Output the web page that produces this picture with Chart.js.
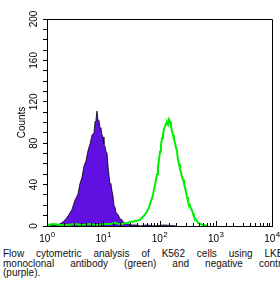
<!DOCTYPE html>
<html>
<head>
<meta charset="utf-8">
<script src="https://cdn.jsdelivr.net/npm/chart.js@4/dist/chart.umd.min.js"></script>
<style>
    body { margin: 0; width: 280px; height: 282px; overflow: hidden; background: #fff; position: relative; }
    #chart { position: absolute; left: 0; top: 0; }
    .caption { position: absolute; left: 3px; top: 249px; width: 286px; font-family: "Liberation Sans", Arial, sans-serif; font-size: 10px; line-height: 9.5px; color: #111; }
    .caption .jl { text-align: justify; text-align-last: justify; white-space: nowrap; }
</style>
</head>
<body>
<canvas id="chart" width="280" height="248"></canvas>
<div class="caption">
    <div class="jl">Flow cytometric analysis of K562 cells using LKB1</div>
    <div class="jl">monoclonal antibody (green) and negative control</div>
    <div>(purple).</div>
</div>
<script>
    // fluorescence intensity (log scale) and event counts
    var purpleX = [1.13, 1.23, 1.45, 1.70, 1.93, 2.18, 2.46, 2.78, 3.15, 3.56, 3.86, 4.19, 4.55, 4.94, 5.36, 5.81, 6.31, 6.85, 7.14, 7.43,
        7.74, 8.07, 8.40, 8.76, 9.12, 9.50, 9.90, 10.3, 10.7, 11.2, 11.7, 12.2, 12.7, 13.2, 13.7, 14.3, 14.9, 15.5, 16.2, 16.9,
        18.3, 19.9, 21.5, 23.4, 26.4, 31.1, 38.2, 45.0, 60, 80, 120, 200];
    var purpleCounts = [0, 1, 1, 2, 4, 7, 11, 16, 25, 31, 41, 47, 58, 63, 73, 79, 88, 90, 101, 103,
        111, 102, 101, 95, 94, 88, 86, 79, 77, 72, 70, 57, 48, 41, 40, 34, 29, 20, 18, 13,
        11, 7, 6, 3, 2, 1, 1, 0, 1, 0, 1, 0];

    var greenX = [1.0, 1.3, 1.7, 2.3, 3.15, 4.2, 5.8, 7.5, 10.7, 13.5, 16.2, 19.0, 21.5, 24.5, 27.5, 30.5, 33.8, 36.5, 39.8, 45.0,
        50.9, 55.2, 59.9, 65.1, 70.6, 76.6, 83.2, 90.3, 94.0, 98.0, 102.1, 106.3, 110.8, 115.4, 120.2, 125.3, 130.5, 135.9, 141.6, 147.5,
        153.7, 160.1, 166.8, 173.8, 181.0, 188.6, 196.5, 204.7, 213.3, 222.2, 231.4, 241.2, 251.2, 261.7, 272.6, 284.0, 295.9, 308.3, 321.1, 334.6,
        348.5, 363.1, 378.3, 394.1, 410.5, 427.7, 445.6, 464.2, 483.6, 524.8, 593.5, 700];
    var greenCounts = [1, 2, 1, 1, 2, 1, 2, 1, 2, 2, 3, 2, 2, 3, 3, 4, 4, 5, 5, 6,
        9, 11, 14, 18, 24, 30, 40, 50, 57, 64, 72, 78, 85, 88, 94, 96, 99, 100, 98, 103,
        101, 96, 92, 88, 84, 80, 76, 72, 64, 60, 55, 52, 47, 45, 41, 38, 33, 28, 24, 21,
        19, 17, 15, 12, 9, 7, 6, 5, 3, 2, 1, 0];

    var xMajor = [1, 10, 100, 1000, 10000];
    var xExponents = ['0', '1', '2', '3', '4'];
    var yLabelStep = 40;

    function toPoints(xs, ys) {
        var pts = [];
        for (var i = 0; i < xs.length; i++) {
            pts.push({x: xs[i], y: ys[i]});
        }
        return pts;
    }

    var fam = '"Liberation Sans", Arial, sans-serif';

    // box round the plot, inward ticks on the log axis and 10^n labels
    var frameTicks = {
        id: 'frameTicks',
        afterDatasetsDraw: function (chart) {
            var ctx = chart.ctx;
            var area = chart.chartArea;
            var xs = chart.scales.x;
            ctx.save();
            ctx.strokeStyle = '#000';
            ctx.lineWidth = 1;
            ctx.beginPath();
            ctx.moveTo(area.left, area.top + 0.5);
            ctx.lineTo(area.right + 0.5, area.top + 0.5);
            ctx.lineTo(area.right + 0.5, area.bottom);
            ctx.stroke();
            xs.ticks.forEach(function (t) {
                var px = Math.round(xs.getPixelForValue(t.value)) + 0.5;
                var len = xMajor.indexOf(t.value) >= 0 ? 5 : 3;
                ctx.beginPath();
                ctx.moveTo(px, area.bottom);
                ctx.lineTo(px, area.bottom - len);
                ctx.stroke();
            });
            ctx.fillStyle = '#000';
            ctx.textBaseline = 'alphabetic';
            ctx.textAlign = 'left';
            xMajor.forEach(function (v, i) {
                var px = xs.getPixelForValue(v);
                ctx.font = '10px ' + fam;
                var w1 = ctx.measureText('10').width;
                ctx.font = '8px ' + fam;
                var w2 = ctx.measureText(xExponents[i]).width;
                var x0 = px - (w1 + w2) / 2;
                ctx.font = '10px ' + fam;
                ctx.fillText('10', x0, area.bottom + 16);
                ctx.font = '8px ' + fam;
                ctx.fillText(xExponents[i], x0 + w1 + 0.5, area.bottom + 11);
            });
            ctx.restore();
        }
    };

    var font = {family: fam, size: 10};

    new Chart(document.getElementById('chart'), {
        type: 'line',
        data: {
            datasets: [{
                label: 'LKB1',
                data: toPoints(greenX, greenCounts),
                borderColor: '#00f000',
                borderWidth: 2,
                fill: false,
                pointRadius: 0,
                tension: 0,
            }, {
                label: 'negative control',
                data: toPoints(purpleX, purpleCounts),
                borderColor: '#000',
                borderWidth: 0.8,
                backgroundColor: '#6010e0',
                fill: 'origin',
                pointRadius: 0,
                tension: 0,
            }]
        },
        options: {
            responsive: false,
            animation: false,
            devicePixelRatio: 1,
            layout: {padding: {top: 19, right: 8, left: 0, bottom: 0}},
            plugins: {
                legend: {display: false},
                tooltip: {enabled: false},
            },
            scales: {
                x: {
                    type: 'logarithmic',
                    min: 1,
                    max: 10000,
                    grid: {display: false, drawTicks: false},
                    border: {display: true, color: '#000', width: 1},
                    ticks: {display: false, autoSkip: false},
                    afterFit: function (s) { s.height = 22; }
                },
                y: {
                    min: 0,
                    max: 200,
                    grid: {display: true, drawOnChartArea: false, drawTicks: true, tickLength: 4, color: '#000'},
                    border: {display: true, color: '#000', width: 1},
                    ticks: {
                        stepSize: 10,
                        autoSkip: false,
                        minRotation: 90,
                        maxRotation: 90,
                        crossAlign: 'center',
                        padding: 0,
                        color: '#000',
                        font: font,
                        callback: function (v) {
                            return v % yLabelStep === 0 ? v : '';
                        }
                    },
                    title: {
                        display: true,
                        text: 'Counts',
                        color: '#000',
                        font: font,
                        padding: {top: 16, bottom: 0}
                    },
                    afterFit: function (s) { s.width = 47; }
                }
            }
        },
        plugins: [frameTicks]
    });
</script>
</body>
</html>
